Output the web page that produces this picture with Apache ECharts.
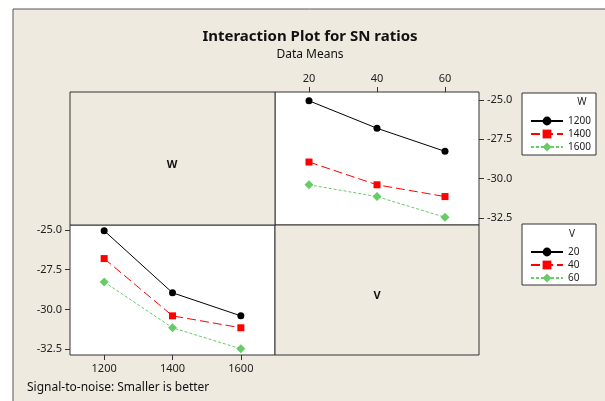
<!DOCTYPE html>
<html lang="en">
<head>
<meta charset="UTF-8">
<title>Interaction Plot for SN ratios</title>
<script src="https://cdn.jsdelivr.net/npm/echarts@6/dist/echarts.min.js"></script>
</head>
<body style="margin:0">
<div id="main" style="width:605px;height:401px;"></div>
<script type="text/javascript">
// levels of the two factors
var levelsW = ['1200', '1400', '1600'];
var levelsV = ['20', '40', '60'];
// SN ratio means, one array per W level, values over V = 20, 40, 60
var snW1200 = [-25.05, -26.8, -28.27];
var snW1400 = [-28.95, -30.4, -31.15];
var snW1600 = [-30.4, -31.15, -32.47];
var yTicks = [-32.5, -30.0, -27.5, -25.0];

var font = 'Noto Sans';
var beige = '#EEEAE0';
var styles = [
    {color: '#000000', symbol: 'circle', size: 7, dash: 'solid'},
    {color: '#FF0000', symbol: 'rect', size: 7, dash: [9, 4]},
    {color: '#66CC66', symbol: 'diamond', size: 9, dash: [3, 2]}
];

var byW = [snW1200, snW1400, snW1600];
// same table read the other way: one array per V level over W
var byV = levelsV.map(function (v, j) {
    return byW.map(function (row) { return row[j]; });
});

var series = [];
levelsW.forEach(function (w, i) {
    series.push(makeSeries(w, 0, byW[i], styles[i]));
});
levelsV.forEach(function (v, i) {
    series.push(makeSeries(v, 1, byV[i], styles[i]));
});

function makeSeries(name, idx, data, st) {
    return {
        name: name,
        type: 'line',
        xAxisIndex: idx,
        yAxisIndex: idx,
        data: data,
        symbol: st.symbol,
        symbolSize: st.size,
        showSymbol: true,
        animation: false,
        itemStyle: {color: st.color},
        lineStyle: {color: st.color, width: 1, type: st.dash}
    };
}

function yAxis(idx, pos, min, max) {
    return {
        type: 'value', gridIndex: idx, position: pos, min: min, max: max,
        axisLine: {show: false},
        splitLine: {show: false},
        axisTick: {show: true, length: 5, customValues: yTicks, lineStyle: {color: '#333'}},
        axisLabel: {
            customValues: yTicks, margin: 8, color: '#222', fontFamily: font, fontSize: 11,
            formatter: function (v) { return v.toFixed(1); }
        }
    };
}

function xAxis(idx, pos, cats) {
    return {
        type: 'category', gridIndex: idx, position: pos, data: cats, boundaryGap: true,
        axisLine: {show: false},
        axisTick: {show: true, alignWithLabel: true, length: 5, lineStyle: {color: '#333'}},
        axisLabel: {margin: 8, color: '#222', fontFamily: font, fontSize: 11}
    };
}

function legend(names, top) {
    return {
        data: names, orient: 'vertical', left: 525, top: top,
        itemWidth: 32, itemHeight: 11, itemGap: 3,
        textStyle: {fontFamily: font, fontSize: 10, color: '#222'},
        selectedMode: false
    };
}

var myChart = echarts.init(document.getElementById('main'));
var option = {
    backgroundColor: '#ffffff',
    animation: false,
    grid: [
        {left: 275, top: 92, width: 204, height: 133, show: true, backgroundColor: '#fff', borderColor: '#333', borderWidth: 1},
        {left: 70, top: 225, width: 205, height: 130, show: true, backgroundColor: '#fff', borderColor: '#333', borderWidth: 1}
    ],
    xAxis: [xAxis(0, 'top', levelsV), xAxis(1, 'bottom', levelsW)],
    yAxis: [yAxis(0, 'right', -32.96, -24.49), yAxis(1, 'left', -32.86, -24.69)],
    legend: [legend(levelsW, 111), legend(levelsV, 242)],
    graphic: [
        {type: 'rect', z: -100, shape: {x: 13, y: 9, width: 620, height: 420},
            style: {fill: beige, stroke: '#555', lineWidth: 1}},
        {type: 'rect', shape: {x: 70, y: 92, width: 205, height: 133},
            style: {fill: beige, stroke: '#333', lineWidth: 1}},
        {type: 'rect', shape: {x: 275, y: 225, width: 204, height: 130},
            style: {fill: beige, stroke: '#333', lineWidth: 1}},
        {type: 'text', x: 172, y: 165, style: {text: 'W', font: 'bold 11px ' + font, fill: '#111', textAlign: 'center', textVerticalAlign: 'middle'}},
        {type: 'text', x: 377, y: 296, style: {text: 'V', font: 'bold 11px ' + font, fill: '#111', textAlign: 'center', textVerticalAlign: 'middle'}},
        {type: 'text', x: 310, y: 37, style: {text: 'Interaction Plot for SN ratios', font: 'bold 15px ' + font, fill: '#111', textAlign: 'center', textVerticalAlign: 'middle'}},
        {type: 'text', x: 310, y: 55, style: {text: 'Data Means', font: '12px ' + font, fill: '#111', textAlign: 'center', textVerticalAlign: 'middle'}},
        {type: 'text', x: 27, y: 388, style: {text: 'Signal-to-noise: Smaller is better', font: '12px ' + font, fill: '#111', textVerticalAlign: 'middle'}},
        // legend boxes and titles
        {type: 'rect', z: -50, shape: {x: 522, y: 93, width: 74, height: 62}, style: {fill: '#fff', stroke: '#333', lineWidth: 1}},
        {type: 'text', x: 582, y: 102, style: {text: 'W', font: '10px ' + font, fill: '#222', textAlign: 'center', textVerticalAlign: 'middle'}},
        {type: 'rect', z: -50, shape: {x: 522, y: 224, width: 74, height: 61}, style: {fill: '#fff', stroke: '#333', lineWidth: 1}},
        {type: 'text', x: 572, y: 234, style: {text: 'V', font: '10px ' + font, fill: '#222', textAlign: 'center', textVerticalAlign: 'middle'}}
    ],
    series: series
};
myChart.setOption(option);
</script>
</body>
</html>
